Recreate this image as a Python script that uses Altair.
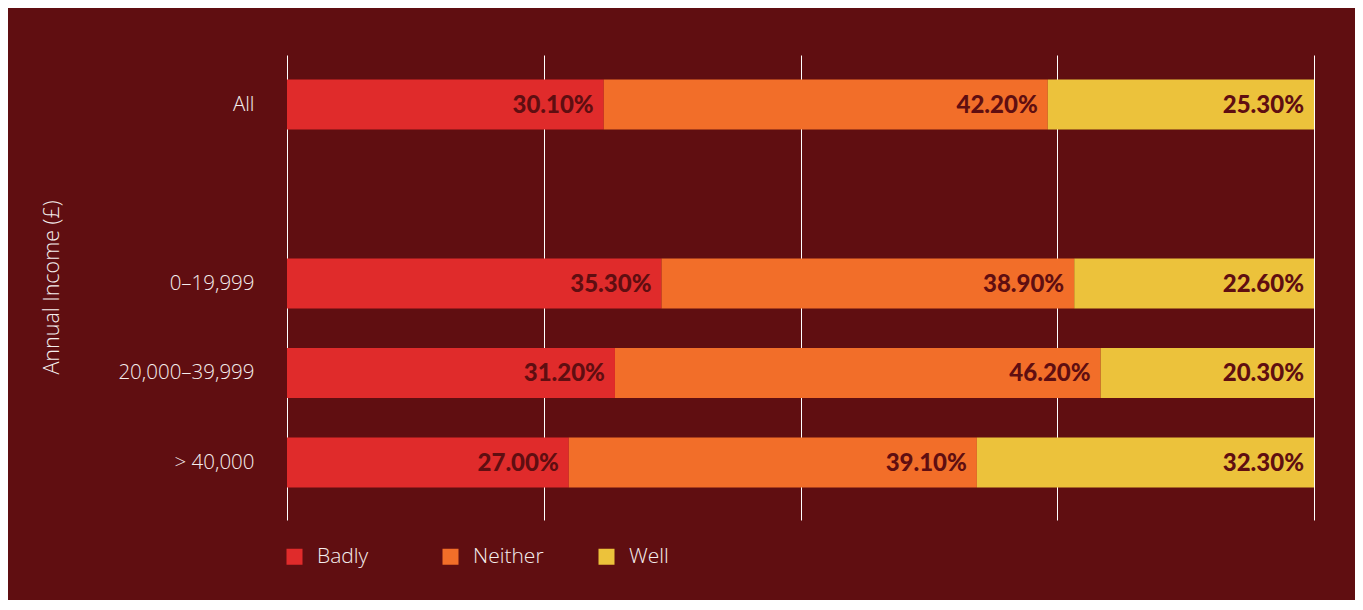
import altair as alt
import pandas as pd

groups = ["All", "0–19,999", "20,000–39,999", "> 40,000"]
y_domain = ["All", " ", "0–19,999", "20,000–39,999", "> 40,000"]
categories = ["Badly", "Neither", "Well"]
badly = [30.1, 35.3, 31.2, 27.0]
neither = [42.2, 38.9, 46.2, 39.1]
well = [25.3, 22.6, 20.3, 32.3]
colors = ["#e02b2b", "#f26e29", "#ecc23b"]

rows = []
for gi, g in enumerate(groups):
    for ci, (c, vals) in enumerate(zip(categories, [badly, neither, well])):
        rows.append({"group": g, "cat": c, "order": ci, "value": vals[gi],
                     "label": f"{vals[gi]:.2f}%"})
df = pd.DataFrame(rows)

BG = "#600e11"

base = alt.Chart(df).transform_stack(
    stack="value", groupby=["group"], as_=["x0", "x1"], offset="normalize",
    sort=[alt.SortField("order", order="ascending")],
)

y_enc = alt.Y("group:N",
              scale=alt.Scale(domain=y_domain, paddingInner=0.4413, paddingOuter=0.3184, align=0.43),
              axis=alt.Axis(title="Annual Income (£)", domain=False, ticks=False, grid=False,
                            labelFont="Open Sans", labelFontSize=20.5, labelFontWeight=300,
                            labelColor="#f5eeee", labelPadding=33,
                            titleFont="Open Sans", titleFontSize=21.5, titleFontWeight=300,
                            titleColor="#f5eeee", titleX=-235, titleY=232, titleAngle=-90,
                            titleBaseline="middle", titleAlign="center"))

bars = base.mark_bar(cornerRadius=0).encode(
    x=alt.X("x0:Q", scale=alt.Scale(domain=[0, 1]),
            axis=alt.Axis(values=[0, 0.25, 0.5, 0.75, 1], labels=False, ticks=False, domain=False,
                          title=None, grid=True, gridColor="#ffffff", gridWidth=1, gridOpacity=1)),
    x2="x1:Q",
    y=y_enc,
    color=alt.Color("cat:N", scale=alt.Scale(domain=categories, range=colors),
                    legend=alt.Legend(title=None, orient="none", legendX=-3, legendY=491,
                                      direction="horizontal", columns=3, gridAlign="all",
                                      columnPadding=52, symbolType="square", symbolSize=256,
                                      symbolStrokeWidth=0, symbolOpacity=1, labelOffset=12,
                                      labelFont="Open Sans", labelFontSize=21, labelFontWeight=300,
                                      labelColor="#f5eeee")),
)

texts = base.mark_text(align="right", baseline="middle", dx=-10, dy=1,
                       font="Lato", fontSize=24, fontWeight=900, color="#5f0e11").encode(
    x=alt.X("x1:Q"),
    y=alt.Y("group:N"),
    text="label:N",
)

chart = alt.layer(bars, texts).properties(
    width=1027, height=465,
    autosize=alt.AutoSizeParams(type="none"),
    padding={"left": 279, "top": 47, "right": 41, "bottom": 80},
    background=BG,
).configure_view(stroke=None)

chart.save("out.html", embed_options={"renderer": "svg", "actions": False})
